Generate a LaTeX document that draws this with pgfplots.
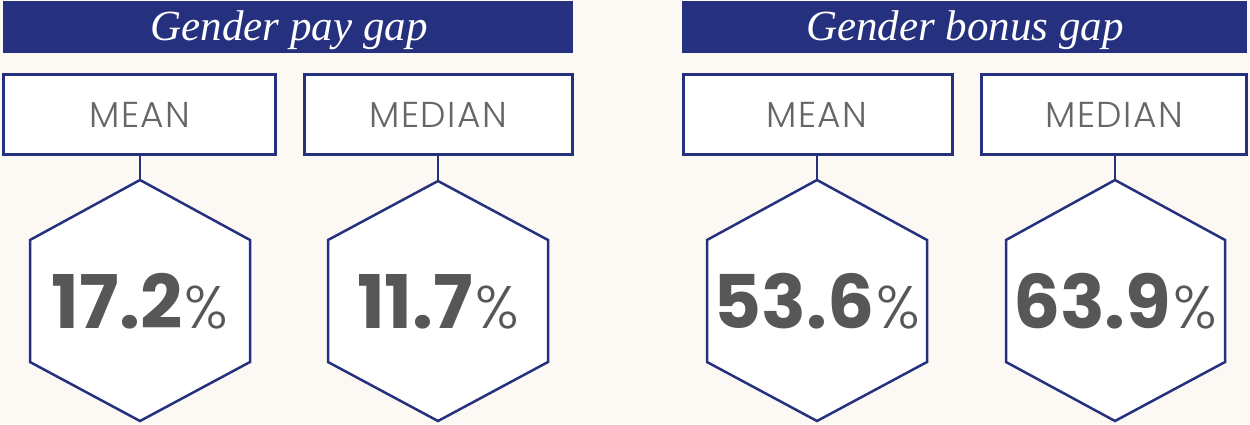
\documentclass[border=0pt]{standalone}
\usepackage{pgfplots}
\usepackage{pgfplotstable}
\pgfplotsset{compat=1.18}
\usepackage{fontspec}
\setmainfont{Poppins}
\newfontfamily\titlefont{Liberation Serif}
\newfontfamily\numfont{Poppins}
\newfontfamily\lightfont{Poppins Light}
\newfontfamily\labelfont{Poppins Light}[LetterSpace=4]
\definecolor{navy}{HTML}{25307E}
\definecolor{bg}{HTML}{FCF9F4}
\definecolor{numgray}{HTML}{575757}
\definecolor{labgray}{HTML}{666666}

% hexagon centres, value labels
\pgfplotstableread{
x   y    value
140 328  17.2
438 328  11.7
817 328  53.6
1115 328 63.9
}\valuetable

\begin{document}
\begin{tikzpicture}
\begin{axis}[
  width=625pt, height=212pt, scale only axis,
  xmin=0, xmax=1250, ymin=0, ymax=424, y dir=reverse,
  hide axis, clip=false,
]
% background
\addplot[fill=bg, draw=none] coordinates {(0,0) (1250,0) (1250,424) (0,424)} -- cycle;
% header bars
\addplot[fill=navy, draw=none] coordinates {(3,1) (573,1) (573,53) (3,53)} -- cycle;
\addplot[fill=navy, draw=none] coordinates {(682,1) (1247,1) (1247,53) (682,53)} -- cycle;
\node[text=white, font=\titlefont\itshape\fontsize{21.5}{24}\selectfont, anchor=base] at (axis cs:289,40) {Gender pay gap};
\node[text=white, font=\titlefont\itshape\fontsize{21.5}{24}\selectfont, anchor=base] at (axis cs:965,40) {Gender bonus gap};
% label boxes
\addplot[fill=white, draw=navy, line width=1.5pt] coordinates {(4,74) (275,74) (275,154) (4,154)} -- cycle;
\addplot[fill=white, draw=navy, line width=1.5pt] coordinates {(304,74) (572,74) (572,154) (304,154)} -- cycle;
\addplot[fill=white, draw=navy, line width=1.5pt] coordinates {(683,74) (952,74) (952,154) (683,154)} -- cycle;
\addplot[fill=white, draw=navy, line width=1.5pt] coordinates {(981,74) (1246,74) (1246,154) (981,154)} -- cycle;
\node[text=labgray, font=\labelfont\fontsize{18}{20}\selectfont, anchor=base] at (axis cs:140,127) {MEAN};
\node[text=labgray, font=\labelfont\fontsize{18}{20}\selectfont, anchor=base] at (axis cs:438,127) {MEDIAN};
\node[text=labgray, font=\labelfont\fontsize{18}{20}\selectfont, anchor=base] at (axis cs:817,127) {MEAN};
\node[text=labgray, font=\labelfont\fontsize{18}{20}\selectfont, anchor=base] at (axis cs:1114,127) {MEDIAN};
% connectors
\addplot[draw=navy, line width=0.75pt] coordinates {(140,155) (140,180)};
\addplot[draw=navy, line width=0.75pt] coordinates {(438,155) (438,181)};
\addplot[draw=navy, line width=0.75pt] coordinates {(817,155) (817,180)};
\addplot[draw=navy, line width=0.75pt] coordinates {(1115,155) (1115,180)};
% hexagons
\addplot[fill=white, draw=navy, line width=1.25pt] coordinates {(140,180) (250,240) (250,362) (140,421) (30,362) (30,240)} -- cycle;
\addplot[fill=white, draw=navy, line width=1.25pt] coordinates {(438,181) (548,240) (548,362) (438,421) (328,362) (328,240)} -- cycle;
\addplot[fill=white, draw=navy, line width=1.25pt] coordinates {(817,180) (927,240) (927,362) (817,421) (707,362) (707,240)} -- cycle;
\addplot[fill=white, draw=navy, line width=1.25pt] coordinates {(1115,180) (1225,240) (1225,362) (1115,421) (1006,362) (1006,240)} -- cycle;
% values
\addplot[only marks, mark=none,
  point meta=explicit symbolic,
  nodes near coords={{\numfont\bfseries\fontsize{37}{40}\selectfont\pgfplotspointmeta}\kern1pt{\lightfont\fontsize{30}{32}\selectfont\%}},
  every node near coord/.append style={anchor=base, text=numgray, inner sep=0pt},
] table[x=x, y=y, meta=value] {\valuetable};
\end{axis}
\end{tikzpicture}
\end{document}
